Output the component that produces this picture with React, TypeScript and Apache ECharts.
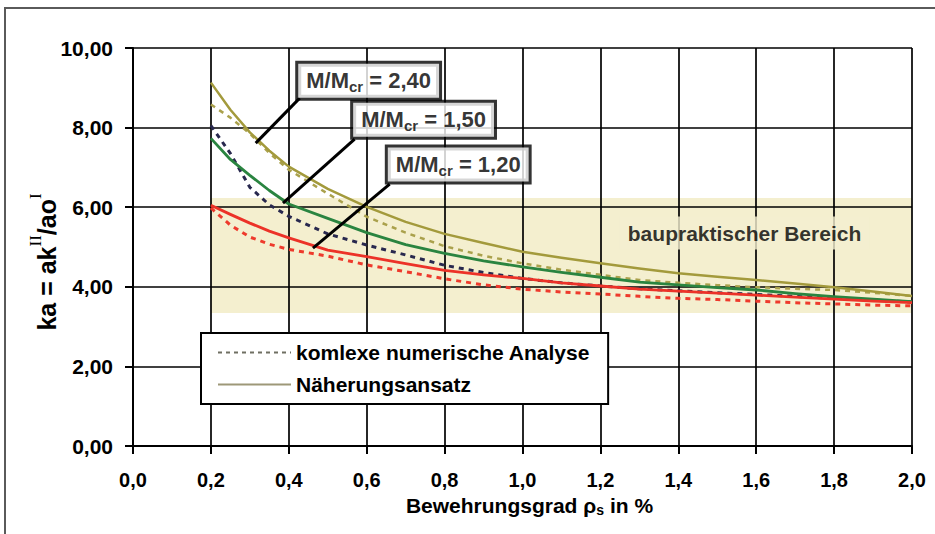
import React, { useEffect, useRef } from "react";
import * as echarts from "echarts";

// ---- data ----
const rho = [0.2, 0.25, 0.3, 0.35, 0.4, 0.5, 0.6, 0.7, 0.8, 0.9, 1.0, 1.1, 1.2, 1.3, 1.4, 1.5, 1.6, 1.7, 1.8, 1.9, 2.0];
const approx240 = [9.13, 8.45, 7.88, 7.42, 7.02, 6.46, 6.01, 5.63, 5.33, 5.1, 4.88, 4.73, 4.59, 4.46, 4.34, 4.25, 4.17, 4.08, 3.99, 3.88, 3.77];
const numeric240 = [8.58, 8.25, 7.85, 7.36, 6.94, 6.34, 5.76, 5.36, 5.02, 4.78, 4.59, 4.43, 4.3, 4.17, 4.1, 4.04, 3.99, 3.95, 3.92, 3.85, 3.77];
const approx150 = [7.73, 7.2, 6.8, 6.42, 6.08, 5.72, 5.36, 5.06, 4.84, 4.65, 4.5, 4.36, 4.24, 4.12, 4.05, 3.98, 3.92, 3.83, 3.75, 3.69, 3.63];
const numeric150 = [8.05, 7.35, 6.5, 6.06, 5.77, 5.33, 5.05, 4.8, 4.54, 4.36, 4.21, 4.1, 4.02, 3.95, 3.9, 3.85, 3.81, 3.76, 3.71, 3.67, 3.62];
const approx120 = [6.05, 5.82, 5.6, 5.4, 5.23, 4.92, 4.76, 4.58, 4.41, 4.3, 4.21, 4.1, 4.02, 3.94, 3.89, 3.84, 3.79, 3.74, 3.69, 3.64, 3.6];
const numeric120 = [5.98, 5.55, 5.25, 5.07, 4.94, 4.77, 4.55, 4.38, 4.2, 4.05, 3.94, 3.87, 3.82, 3.76, 3.71, 3.68, 3.64, 3.6, 3.57, 3.54, 3.52];

const ratios = ["2,40", "1,50", "1,20"];
const bandX = [0.2, 2.0];
const bandY = [3.34, 6.23];
const bandLabel = "baupraktischer Bereich";
const legendNames = ["komlexe numerische Analyse", "Näherungsansatz"];

// ---- annotation placement (data coordinates) ----
const boxAnchors = [
  [0.605, 9.18],
  [0.746, 8.2],
  [0.835, 7.07],
];
const leaderLines = [
  [[0.428, 8.74], [0.315, 7.61]],
  [[0.569, 7.71], [0.385, 6.1]],
  [[0.659, 6.58], [0.462, 4.97]],
];
const bandLabelAnchor = [1.57, 5.35];

const FONT = "'Liberation Sans', Arial, sans-serif";
const INK = "#000000";

const pair = (ys: number[]) => rho.map((x, i) => [x, ys[i]]);

export default function App() {
  const ref = useRef<HTMLDivElement>(null);

  useEffect(() => {
    if (!ref.current) return;
    const chart = echarts.init(ref.current, undefined, { renderer: "svg" });

    const curve = (name: string, ys: number[], color: string, dashed: boolean, width: number) => ({
      name,
      type: "line",
      data: pair(ys),
      smooth: false,
      symbol: "none",
      z: 2,
      lineStyle: { color, width, type: dashed ? [5, 5] : "solid", join: "round" },
    });

    const option: any = {
      animation: false,
      backgroundColor: "#ffffff",
      grid: { left: 133, right: 23, top: 48, bottom: 88, containLabel: false },
      xAxis: {
        type: "value",
        min: 0,
        max: 2,
        interval: 0.2,
        axisLine: { show: true, onZero: false, lineStyle: { color: INK, width: 2 } },
        axisTick: { show: true, length: 8, lineStyle: { color: INK, width: 2 } },
        axisLabel: {
          margin: 24,
          fontSize: 20,
          fontWeight: "bold",
          fontFamily: FONT,
          color: INK,
          formatter: (v: number) => v.toFixed(1).replace(".", ","),
        },
        splitLine: { show: true, lineStyle: { color: INK, width: 1.7 } },
        name: "{m|Bewehrungsgrad }{m|ρ}{s|s}{m| in %}",
        nameLocation: "middle",
        nameGap: 45,
        nameTextStyle: {
          padding: [0, 0, 0, 14],
          rich: {
            m: { fontSize: 21, fontWeight: "bold", fontFamily: FONT, color: INK, lineHeight: 24 },
            s: { fontSize: 14, fontWeight: "bold", fontFamily: FONT, color: INK, lineHeight: 24, verticalAlign: "bottom" },
          },
        },
      },
      yAxis: {
        type: "value",
        min: 0,
        max: 10,
        interval: 2,
        axisLine: { show: true, onZero: false, lineStyle: { color: INK, width: 2 } },
        axisTick: { show: true, length: 8, lineStyle: { color: INK, width: 2 } },
        axisLabel: {
          margin: 20,
          fontSize: 21,
          fontWeight: "bold",
          fontFamily: FONT,
          color: INK,
          formatter: (v: number) => v.toFixed(2).replace(".", ","),
        },
        splitLine: { show: true, lineStyle: { color: INK, width: 1.7 } },
      },
      legend: {
        data: legendNames,
        orient: "vertical",
        left: 201,
        top: 333,
        itemWidth: 73,
        itemHeight: 20,
        itemGap: 11,
        padding: [9, 18, 9, 16],
        backgroundColor: "#ffffff",
        borderColor: INK,
        borderWidth: 2,
        selectedMode: false,
        itemStyle: { opacity: 0 },
        textStyle: { fontSize: 21, fontWeight: "bold", fontFamily: FONT, color: INK, lineHeight: 20 },
      },
      graphic: [
        {
          type: "polyline",
          shape: { points: [[5, 540], [5, 8], [940, 8]] },
          style: { stroke: "#5a5a5a", lineWidth: 2, fill: null },
          silent: true,
        },
        {
          type: "text",
          x: 43,
          y: 262,
          rotation: Math.PI / 2,
          silent: true,
          style: {
            text: "{m|ka = ak}{sup|II}{m|/ao}{sup|I}",
            align: "center",
            verticalAlign: "middle",
            rich: {
              m: { fontSize: 25, fontWeight: "bold", fontFamily: FONT, fill: INK, lineHeight: 32, verticalAlign: "bottom" },
              sup: { fontSize: 17, fontFamily: "'Liberation Serif', serif", fill: INK, lineHeight: 32, verticalAlign: "top" },
            },
          },
        },
      ],
      series: [
        {
          name: "band",
          type: "line",
          data: [],
          z: -1,
          silent: true,
          markArea: {
            silent: true,
            z: -1,
            itemStyle: { color: "#f4efcf" },
            data: [[{ coord: [bandX[0], bandY[1]] }, { coord: [bandX[1], bandY[0]] }]],
          },
        },
        { name: legendNames[0], type: "line", data: [], symbol: "none", lineStyle: { color: "#6f6f62", width: 2, type: [4, 4] }, itemStyle: { color: "#6f6f62" } },
        { name: legendNames[1], type: "line", data: [], symbol: "none", lineStyle: { color: "#9d9878", width: 3 }, itemStyle: { color: "#9d9878" } },
        curve("2,40 numerisch", numeric240, "#aaa14c", true, 2.5),
        curve("2,40 Näherung", approx240, "#a39a3c", false, 2.5),
        curve("1,50 numerisch", numeric150, "#28284e", true, 3),
        curve("1,50 Näherung", approx150, "#2a8440", false, 2.8),
        curve("1,20 numerisch", numeric120, "#ee3a2c", true, 3),
        curve("1,20 Näherung", approx120, "#ec3228", false, 2.8),
        ...leaderLines.map((seg, i) => ({
          name: "leader " + ratios[i],
          type: "line",
          data: seg,
          symbol: "none",
          z: 3,
          silent: true,
          lineStyle: { color: INK, width: 3 },
        })),
        {
          name: "boxes",
          type: "scatter",
          z: 5,
          silent: true,
          symbolSize: 1,
          itemStyle: { color: "rgba(0,0,0,0)" },
          data: boxAnchors.map((p) => p),
          label: {
            show: true,
            position: "inside",
            formatter: (p: any) => `{m|M/M}{s|cr}{m| = ${ratios[p.dataIndex]}}`,
            backgroundColor: "#ffffff",
            borderColor: INK,
            borderWidth: 3,
            textBorderWidth: 0,
            shadowBlur: 0,
            padding: [4, 8, 4, 8],
            rich: {
              m: { fontSize: 22, fontWeight: "bold", fontFamily: FONT, color: INK, lineHeight: 26, verticalAlign: "middle", textBorderWidth: 0 },
              s: { fontSize: 15, fontWeight: "bold", fontFamily: FONT, color: INK, lineHeight: 22, verticalAlign: "bottom", textBorderWidth: 0 },
            },
          },
        },
        {
          name: "band label",
          type: "scatter",
          z: 4,
          silent: true,
          symbolSize: 1,
          itemStyle: { color: "rgba(0,0,0,0)" },
          data: [bandLabelAnchor],
          label: {
            show: true,
            position: "inside",
            formatter: bandLabel,
            fontSize: 21,
            fontWeight: "bold",
            fontFamily: FONT,
            color: INK,
            textBorderWidth: 0,
            backgroundColor: "#f4efcf",
            padding: [6, 8],
          },
        },
      ],
    };

    chart.setOption(option);
    return () => chart.dispose();
  }, []);

  return (
    <div
      ref={ref}
      style={{ position: "fixed", left: 0, top: 0, width: 935, height: 534, background: "#fff" }}
    />
  );
}
